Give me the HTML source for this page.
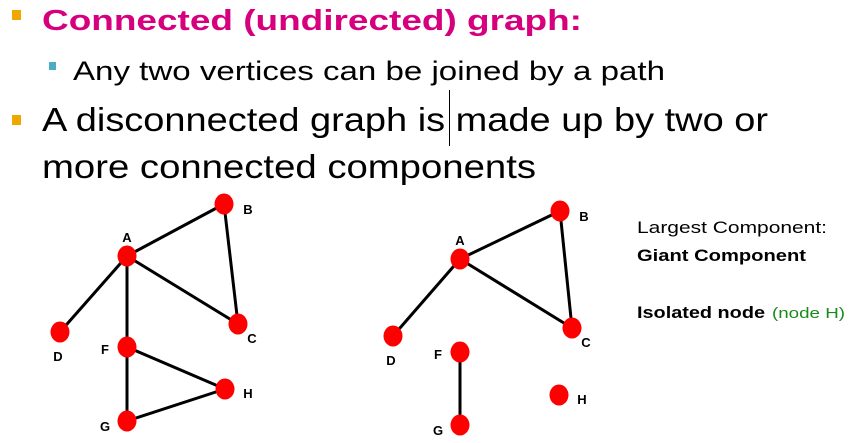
<!DOCTYPE html>
<html><head><meta charset="utf-8"><style>
html,body{margin:0;padding:0;background:#fff;width:849px;height:443px;overflow:hidden}
svg{display:block;font-family:"Liberation Sans",sans-serif}
</style></head><body>
<svg id="s" width="849" height="443" viewBox="0 0 849 443">
<rect x="12" y="10" width="9" height="10" fill="#f0a800"/>
<text x="42" y="30" font-size="29" font-weight="bold" fill="#d6007e" textLength="540" lengthAdjust="spacingAndGlyphs">Connected (undirected) graph:</text>
<rect x="49" y="62" width="7" height="8" fill="#4bacc6"/>
<text x="73" y="80" font-size="27" fill="#000" textLength="592" lengthAdjust="spacingAndGlyphs">Any two vertices can be joined by a path</text>
<rect x="12" y="115" width="9" height="10" fill="#f0a800"/>
<text x="42" y="131" font-size="33" fill="#000" textLength="726" lengthAdjust="spacingAndGlyphs">A disconnected graph is made up by two or</text>
<line x1="449.5" y1="90" x2="449.5" y2="146" stroke="#000" stroke-width="1"/>
<text x="42" y="178" font-size="33" fill="#000" textLength="494" lengthAdjust="spacingAndGlyphs">more connected components</text>
<text x="637" y="233" font-size="17" fill="#000" textLength="190" lengthAdjust="spacingAndGlyphs">Largest Component:</text>
<text x="637" y="261" font-size="17" font-weight="bold" fill="#000" textLength="169" lengthAdjust="spacingAndGlyphs">Giant Component</text>
<text x="637" y="318" font-size="17" font-weight="bold" fill="#000" textLength="128" lengthAdjust="spacingAndGlyphs">Isolated node</text>
<text x="772" y="318" font-size="15" fill="#1a8a1a" textLength="73" lengthAdjust="spacingAndGlyphs">(node H)</text>
<g id="graphs"></g>
</svg>
<script>
const nodeNames=["A","B","C","D","F","G","H"];
const leftX=[127,224,238,60,127,127,225];
const leftY=[256,204,324,332,347,421,389];
const rightX=[460,560,572,393,460,460,559];
const rightY=[259,211,328,336,352,425,395];
const leftEdges=[["A","B"],["B","C"],["A","C"],["A","D"],["A","F"],["F","G"],["F","H"],["G","H"]];
const rightEdges=[["A","B"],["B","C"],["A","C"],["A","D"],["F","G"]];
const labelDX=[0,24,14,-2,-22,-22,23];
const labelDY=[-19,5,14,24,2,5,4];
const NS="http://www.w3.org/2000/svg";
const g=document.getElementById("graphs");
function draw(xs,ys,edges,side){
  const idx=n=>nodeNames.indexOf(n);
  edges.forEach(e=>{
    const a=idx(e[0]),b=idx(e[1]);
    const l=document.createElementNS(NS,"line");
    l.setAttribute("x1",xs[a]);l.setAttribute("y1",ys[a]);
    l.setAttribute("x2",xs[b]);l.setAttribute("y2",ys[b]);
    l.setAttribute("stroke","#000");l.setAttribute("stroke-width","3");
    
    
    g.appendChild(l);
  });
  nodeNames.forEach((n,i)=>{
    const c=document.createElementNS(NS,"ellipse");
    c.setAttribute("cx",xs[i]);c.setAttribute("cy",ys[i]);
    c.setAttribute("rx",9.5);c.setAttribute("ry",10.5);c.setAttribute("fill","#ff0000");
    
    
    g.appendChild(c);
    const t=document.createElementNS(NS,"text");
    t.setAttribute("x",xs[i]+labelDX[i]);t.setAttribute("y",ys[i]+labelDY[i]+5);
    t.setAttribute("font-size","13");t.setAttribute("font-weight","bold");
    t.setAttribute("text-anchor","middle");
    t.textContent=n;
    
    
    g.appendChild(t);
  });
}
draw(leftX,leftY,leftEdges,"left");
draw(rightX,rightY,rightEdges,"right");
</script>
</body></html>
